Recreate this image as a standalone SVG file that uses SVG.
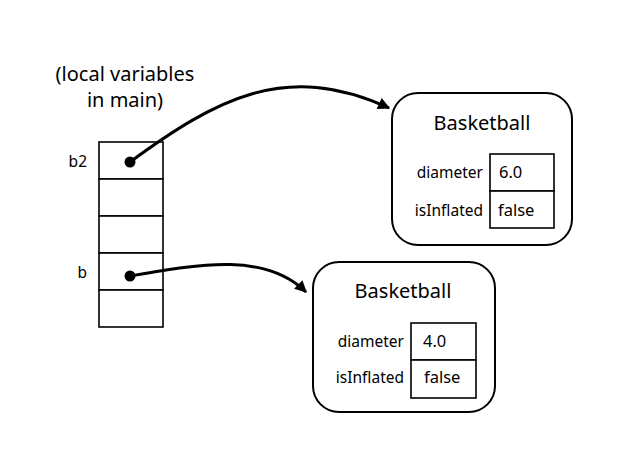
<svg xmlns="http://www.w3.org/2000/svg" width="640" height="457" viewBox="0 0 640 457">
<style>
text{font-family:"Noto Sans","Open Sans","DejaVu Sans",sans-serif;fill:#000}
.title{font-size:20px;text-anchor:middle}
.var{font-size:15.5px;text-anchor:end}
.cls{font-size:20px;text-anchor:middle}
.fld{font-size:15.5px;text-anchor:end}
.val{font-size:16.5px}
.cell{fill:#fff;stroke:#000;stroke-width:1.6}
.obj{fill:#fff;stroke:#000;stroke-width:2}
.conn{fill:none;stroke:#000;stroke-width:3}
</style>
<defs>
<marker id="ah" viewBox="0 0 10 10" refX="9" refY="5" markerWidth="4.8" markerHeight="4" orient="auto" markerUnits="strokeWidth">
<path d="M0,0 L10,5 L0,10 z" fill="#000"/>
</marker>
</defs>
<rect width="640" height="457" fill="#fff"/>
<g id="title">
<text class="title" x="125" y="81">(local variables</text>
<text class="title" x="125" y="107">in main)</text>
</g>
<g id="stack">
<rect class="cell" x="99" y="142" width="64" height="37"/>
<rect class="cell" x="99" y="179" width="64" height="37"/>
<rect class="cell" x="99" y="216" width="64" height="37"/>
<rect class="cell" x="99" y="253" width="64" height="37"/>
<rect class="cell" x="99" y="290" width="64" height="37"/>
<text class="var" x="87" y="167">b2</text>
<text class="var" x="87" y="278">b</text>
</g>
<g id="obj1">
<rect class="obj" x="392" y="93" width="180" height="152" rx="26"/>
<text class="cls" x="482" y="130">Basketball</text>
<rect class="cell" x="490" y="154" width="64" height="37"/>
<rect class="cell" x="490" y="191" width="64" height="37"/>
<text class="fld" x="483" y="178">diameter</text>
<text class="fld" x="483" y="216">isInflated</text>
<text class="val" x="499" y="178">6.0</text>
<text class="val" x="498" y="216">false</text>
</g>
<g id="obj2">
<rect class="obj" x="313" y="262" width="182" height="150" rx="26"/>
<text class="cls" x="403" y="298">Basketball</text>
<rect class="cell" x="411" y="323" width="65" height="37"/>
<rect class="cell" x="411" y="360" width="65" height="38"/>
<text class="fld" x="404" y="347">diameter</text>
<text class="fld" x="404" y="383">isInflated</text>
<text class="val" x="423" y="347">4.0</text>
<text class="val" x="424" y="383">false</text>
</g>
<g id="connectors">
<circle cx="130" cy="162" r="5.5" fill="#000"/>
<circle cx="130" cy="276" r="5.5" fill="#000"/>
<path class="conn" d="M130,162 C215,100 285,60 389,108" marker-end="url(#ah)"/>
<path class="conn" d="M130,276 C200,264 265,252 306,292" marker-end="url(#ah)"/>
</g>
</svg>
